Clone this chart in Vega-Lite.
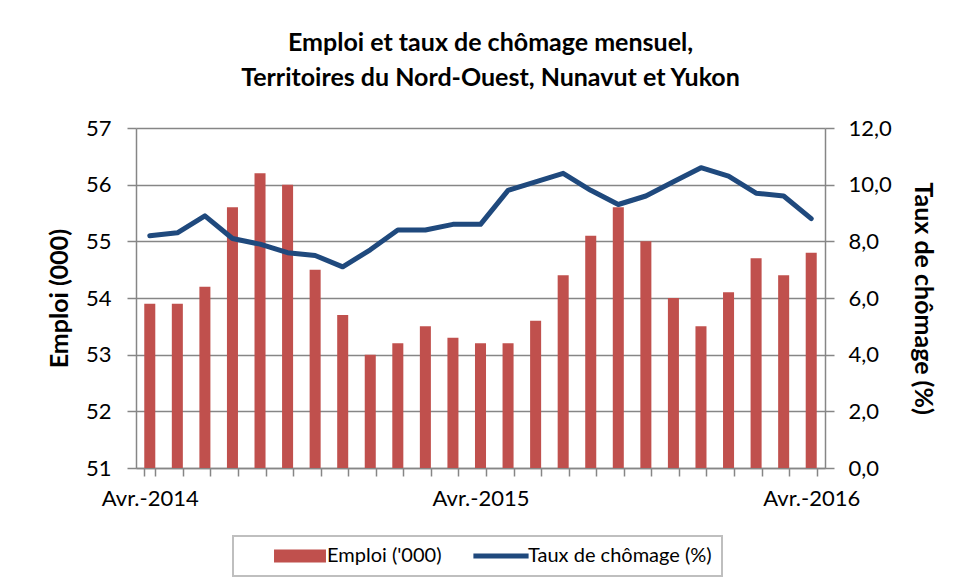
{
  "$schema": "https://vega.github.io/schema/vega-lite/v6.json",
  "width": 689,
  "height": 340,
  "autosize": {"type": "none"},
  "padding": {"left": 136, "top": 128, "right": 129, "bottom": 120},
  "background": "white",
  "title": {
    "text": ["Emploi et taux de chômage mensuel,", "Territoires du Nord-Ouest, Nunavut et Yukon"],
    "font": "Lato",
    "fontSize": 25,
    "fontWeight": "bold",
    "lineHeight": 35,
    "anchor": "middle",
    "offset": 26,
    "dx": 10,
    "color": "black"
  },
  "data": {
    "values": [
      {"mois": "Avr.-2014", "emploi": 53.9, "taux": 8.2},
      {"mois": "Mai-2014", "emploi": 53.9, "taux": 8.3},
      {"mois": "Juin-2014", "emploi": 54.2, "taux": 8.9},
      {"mois": "Juil.-2014", "emploi": 55.6, "taux": 8.1},
      {"mois": "Août-2014", "emploi": 56.2, "taux": 7.9},
      {"mois": "Sept.-2014", "emploi": 56.0, "taux": 7.6},
      {"mois": "Oct.-2014", "emploi": 54.5, "taux": 7.5},
      {"mois": "Nov.-2014", "emploi": 53.7, "taux": 7.1},
      {"mois": "Déc.-2014", "emploi": 53.0, "taux": 7.7},
      {"mois": "Janv.-2015", "emploi": 53.2, "taux": 8.4},
      {"mois": "Févr.-2015", "emploi": 53.5, "taux": 8.4},
      {"mois": "Mars-2015", "emploi": 53.3, "taux": 8.6},
      {"mois": "Avr.-2015", "emploi": 53.2, "taux": 8.6},
      {"mois": "Mai-2015", "emploi": 53.2, "taux": 9.8},
      {"mois": "Juin-2015", "emploi": 53.6, "taux": 10.1},
      {"mois": "Juil.-2015", "emploi": 54.4, "taux": 10.4},
      {"mois": "Août-2015", "emploi": 55.1, "taux": 9.8},
      {"mois": "Sept.-2015", "emploi": 55.6, "taux": 9.3},
      {"mois": "Oct.-2015", "emploi": 55.0, "taux": 9.6},
      {"mois": "Nov.-2015", "emploi": 54.0, "taux": 10.1},
      {"mois": "Déc.-2015", "emploi": 53.5, "taux": 10.6},
      {"mois": "Janv.-2016", "emploi": 54.1, "taux": 10.3},
      {"mois": "Févr.-2016", "emploi": 54.7, "taux": 9.7},
      {"mois": "Mars-2016", "emploi": 54.4, "taux": 9.6},
      {"mois": "Avr.-2016", "emploi": 54.8, "taux": 8.8}
    ]
  },
  "encoding": {
    "x": {
      "field": "mois",
      "type": "nominal",
      "sort": null,
      "scale": {"paddingInner": 0.6, "paddingOuter": 0.3},
      "axis": {
        "title": null,
        "labelAngle": 0,
        "labelExpr": "indexof(datum.label, 'Avr.') == 0 ? datum.label : ''",
        "tickBand": "extent",
        "tickSize": 8,
        "labelPadding": 12,
        "labelFont": "Lato",
        "labelFontSize": 22,
        "labelColor": "black",
        "labelOverlap": false,
        "domainColor": "#868686",
        "domainWidth": 1.5,
        "tickColor": "#868686",
        "tickWidth": 1.5,
        "grid": false
      }
    }
  },
  "layer": [
    {
      "mark": {"type": "bar", "color": "#C0504D"},
      "encoding": {
        "y": {
          "field": "emploi",
          "type": "quantitative",
          "scale": {"domain": [51, 57], "zero": false, "nice": false},
          "axis": {
            "title": "Emploi (000)",
            "titleFont": "Lato",
            "titleFontSize": 25,
            "titleFontWeight": "bold",
            "titleColor": "black",
            "titlePadding": 13,
            "values": [51, 52, 53, 54, 55, 56, 57],
            "labelFont": "Lato",
            "labelFontSize": 22,
            "labelColor": "black",
            "labelPadding": 16,
            "tickSize": 9,
            "tickColor": "#868686",
            "tickWidth": 1.5,
            "domainColor": "#868686",
            "domainWidth": 1.5,
            "grid": true,
            "gridColor": "#868686",
            "gridWidth": 1.5
          }
        },
        "y2": {"datum": 51},
        "color": {
          "datum": "Emploi",
          "type": "nominal",
          "scale": {"domain": ["Emploi", "Taux"], "range": ["#C0504D", "#1F497D"]},
          "legend": {
            "title": null,
            "orient": "none",
            "legendX": 97,
            "legendY": 408,
            "direction": "horizontal",
            "labelExpr": "datum.label == 'Emploi' ? \"Emploi ('000)\" : 'Taux de chômage (%)'",
            "labelLimit": 400,
            "strokeColor": "#BFBFBF",
            "padding": 10,
            "symbolOffset": 47,
            "columnPadding": 2,
            "labelOffset": 17,
            "labelFont": "Lato",
            "labelFontSize": 20,
            "labelColor": "black",
            "symbolSize": 144,
            "symbolType": "M-4.33,-1.08H4.33V1.08H-4.33Z",
            "symbolStrokeWidth": 0,
            "symbolOpacity": 1,
            "encode": {
              "legend": {"update": {"strokeWidth": {"value": 2}}},
              "symbols": {
                "update": {
                  "shape": {"signal": "datum.value == 'Emploi' ? 'M-4.33,-1.08H4.33V1.08H-4.33Z' : 'M-4.6,-0.42H4.6V0.42H-4.6Z'"},
                  "fill": {"signal": "datum.value == 'Emploi' ? '#C0504D' : '#1F497D'"},
                  "strokeWidth": {"value": 0},
                  "opacity": {"value": 1}
                }
              }
            }
          }
        }
      }
    },
    {
      "mark": {"type": "line", "color": "#1F497D", "strokeWidth": 5, "strokeJoin": "round", "strokeCap": "round"},
      "encoding": {
        "y": {
          "field": "taux",
          "type": "quantitative",
          "scale": {"domain": [0, 12], "nice": false},
          "axis": {
            "orient": "right",
            "title": "Taux de chômage (%)",
            "titleFont": "Lato",
            "titleFontSize": 25,
            "titleFontWeight": "bold",
            "titleColor": "black",
            "titlePadding": 18,
            "values": [0, 2, 4, 6, 8, 10, 12],
            "labelExpr": "replace(format(datum.value, '.1f'), '.', ',')",
            "labelFont": "Lato",
            "labelFontSize": 22,
            "labelColor": "black",
            "labelPadding": 14,
            "tickSize": 9,
            "tickColor": "#868686",
            "tickWidth": 1.5,
            "domainColor": "#868686",
            "domainWidth": 1.5,
            "grid": false
          }
        },
        "color": {"datum": "Taux", "type": "nominal"}
      }
    }
  ],
  "resolve": {"scale": {"y": "independent"}},
  "config": {
    "view": {"stroke": null}
  }
}
